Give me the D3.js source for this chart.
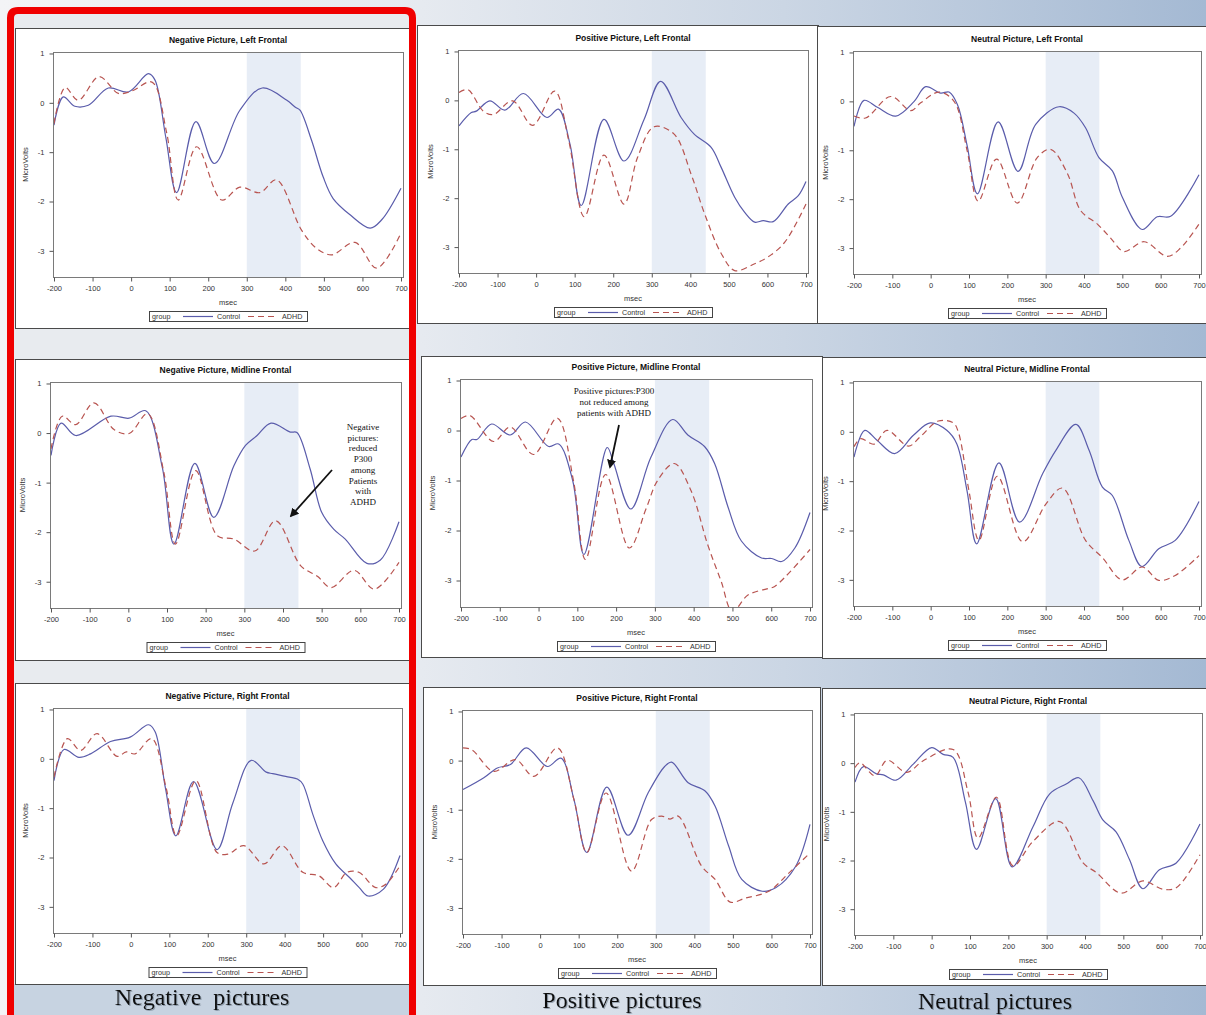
<!DOCTYPE html>
<html>
<head>
<meta charset="utf-8">
<script src="https://cdn.jsdelivr.net/npm/d3@7"></script>
<style>
  html, body { margin: 0; padding: 0; background: #fff; }
  svg { display: block; }
</style>
</head>
<body>
<svg id="chart" width="1206" height="1015"></svg>
<script>
// Grand-average ERP waveforms (µV) at frontal sites, Control vs ADHD,
// for negative, positive and neutral pictures.

const xTicks = [-200, -100, 0, 100, 200, 300, 400, 500, 600, 700];
const yTicks = [1, 0, -1, -2, -3];
const groups = ["Control", "ADHD"];
const p300Window = [300, 440];
const columnLabels = ["Negative  pictures", "Positive pictures", "Neutral pictures"];
const panelTitles = [
  "Negative Picture, Left Frontal", "Negative Picture, Midline Frontal", "Negative Picture, Right Frontal",
  "Positive Picture, Left Frontal", "Positive Picture, Midline Frontal", "Positive Picture, Right Frontal",
  "Neutral Picture, Left Frontal", "Neutral Picture, Midline Frontal", "Neutral Picture, Right Frontal"
];

// [msec, microvolts]
const negLeftControl = [[-200,-0.45],[-176,0.12],[-146,-0.07],[-111,-0.05],[-59,0.30],[-7,0.22],[45,0.59],[62,0.46],[90,-0.7],[118,-1.82],[168,-0.38],[216,-1.23],[282,-0.15],[340,0.30],[404,0.05],[426,-0.09],[438,-0.15],[468,-0.76],[498,-1.5],[524,-1.94],[568,-2.27],[620,-2.54],[650,-2.37],[700,-1.73]];
const negLeftADHD = [[-200,-0.42],[-171,0.31],[-137,0.05],[-83,0.53],[-33,0.19],[2,0.24],[54,0.42],[92,-0.6],[122,-1.97],[170,-0.89],[235,-1.97],[282,-1.71],[334,-1.82],[377,-1.56],[442,-2.58],[481,-2.95],[520,-3.08],[581,-2.83],[637,-3.35],[700,-2.64]];

const negMidControl = [[-200,-0.45],[-174,0.2],[-136,-0.05],[-45,0.34],[2,0.30],[45,0.45],[88,-0.7],[118,-2.24],[172,-0.61],[221,-1.70],[273,-0.66],[303,-0.25],[333,-0.05],[369,0.2],[419,0.02],[436,0.01],[470,-0.72],[500,-1.6],[531,-1.94],[561,-2.14],[617,-2.63],[652,-2.56],[700,-1.79]];
const negMidADHD = [[-200,-0.32],[-171,0.34],[-136,0.17],[-89,0.61],[-37,0.07],[2,-0.01],[50,0.39],[92,-0.8],[122,-2.24],[174,-0.76],[230,-2.07],[273,-2.14],[327,-2.38],[381,-1.77],[446,-2.68],[489,-2.89],[524,-3.12],[584,-2.77],[636,-3.15],[700,-2.61]];

const negRightControl = [[-200,-0.44],[-174,0.19],[-135,0.03],[-105,0.10],[-53,0.35],[-2,0.44],[46,0.69],[63,0.55],[90,-0.6],[117,-1.56],[163,-0.46],[224,-1.84],[265,-0.9],[313,-0.03],[352,-0.27],[369,-0.3],[412,-0.37],[433,-0.41],[447,-0.51],[473,-1.12],[499,-1.66],[533,-2.13],[568,-2.40],[594,-2.61],[617,-2.78],[657,-2.64],[700,-1.96]];
const negRightADHD = [[-200,-0.37],[-165,0.41],[-131,0.17],[-88,0.51],[-36,0.05],[-12,0.14],[11,0.10],[54,0.41],[92,-0.6],[119,-1.56],[169,-0.44],[224,-1.9],[253,-1.93],[294,-1.76],[346,-2.13],[393,-1.76],[447,-2.30],[489,-2.37],[527,-2.61],[562,-2.30],[593,-2.30],[637,-2.61],[663,-2.54],[700,-2.17]];

const posLeftControl = [[-200,-0.52],[-168,-0.25],[-155,-0.22],[-120,-0.01],[-81,-0.2],[-33,0.14],[28,-0.35],[58,-0.18],[88,-0.9],[117,-2.15],[176,-0.39],[228,-1.24],[280,-0.39],[323,0.39],[376,-0.35],[410,-0.69],[454,-0.96],[480,-1.37],[515,-1.98],[541,-2.29],[567,-2.49],[589,-2.46],[615,-2.48],[654,-2.12],[680,-1.95],[700,-1.66]];
const posLeftADHD = [[-200,0.16],[-177,0.22],[-137,-0.22],[-111,-0.29],[-61,-0.01],[-9,-0.51],[48,0.19],[84,-0.8],[125,-2.38],[176,-1.12],[228,-2.12],[263,-1.17],[306,-0.54],[358,-0.69],[402,-1.51],[437,-2.32],[480,-3.13],[515,-3.48],[567,-3.34],[602,-3.2],[645,-2.90],[700,-2.12]];

const posMidControl = [[-200,-0.53],[-172,-0.18],[-159,-0.18],[-121,0.13],[-73,-0.09],[-34,0.17],[26,-0.32],[52,-0.27],[88,-1.0],[117,-2.48],[177,-0.34],[194,-0.66],[238,-1.57],[290,-0.53],[346,0.22],[385,-0.09],[428,-0.32],[454,-0.66],[489,-1.54],[523,-2.21],[575,-2.55],[601,-2.56],[627,-2.62],[661,-2.35],[700,-1.64]];
const posMidADHD = [[-200,0.24],[-177,0.30],[-116,-0.22],[-73,0.07],[-13,-0.48],[48,0.25],[90,-1.0],[121,-2.58],[173,-0.88],[234,-2.35],[277,-1.57],[307,-1.0],[350,-0.66],[393,-1.2],[436,-2.28],[471,-3.02],[500,-3.62],[540,-3.29],[592,-3.16],[609,-3.12],[700,-2.38]];

const posRightControl = [[-200,-0.59],[-146,-0.35],[-111,-0.15],[-77,-0.08],[-36,0.26],[19,-0.12],[54,0.05],[88,-0.8],[121,-1.87],[173,-0.54],[228,-1.52],[280,-0.66],[323,-0.12],[341,-0.03],[384,-0.45],[428,-0.62],[454,-0.93],[489,-1.74],[523,-2.42],[576,-2.66],[611,-2.59],[663,-2.15],[700,-1.30]];
const posRightADHD = [[-200,0.26],[-177,0.22],[-120,-0.22],[-64,0.02],[-16,-0.32],[45,0.26],[88,-0.8],[121,-1.87],[171,-0.66],[237,-2.25],[289,-1.2],[315,-1.13],[337,-1.19],[358,-1.13],[419,-2.15],[454,-2.42],[493,-2.88],[532,-2.80],[593,-2.66],[645,-2.29],[700,-1.88]];

const neuLeftControl = [[-200,-0.51],[-174,0.02],[-139,-0.12],[-91,-0.30],[-43,0.0],[-13,0.30],[26,0.17],[48,0.19],[70,-0.07],[95,-0.9],[122,-1.89],[176,-0.42],[228,-1.43],[274,-0.47],[335,-0.11],[374,-0.24],[404,-0.54],[439,-1.15],[474,-1.42],[500,-1.96],[552,-2.62],[591,-2.36],[626,-2.35],[700,-1.50]];
const neuLeftADHD = [[-200,-0.30],[-170,-0.34],[-104,0.10],[-52,-0.19],[-26,-0.03],[22,0.19],[61,0.0],[95,-1.0],[124,-2.04],[172,-1.18],[226,-2.08],[278,-1.15],[313,-0.98],[357,-1.48],[391,-2.23],[435,-2.51],[470,-2.80],[504,-3.07],[557,-2.87],[617,-3.17],[652,-3.0],[700,-2.51]];

const neuMidControl = [[-200,-0.51],[-172,0.03],[-140,-0.17],[-94,-0.44],[-45,-0.07],[-1,0.18],[42,0.03],[68,-0.24],[95,-1.2],[120,-2.27],[178,-0.63],[232,-1.83],[292,-0.85],[327,-0.37],[379,0.15],[413,-0.37],[448,-1.12],[474,-1.29],[517,-2.2],[551,-2.73],[595,-2.37],[638,-2.2],[700,-1.41]];
const neuMidADHD = [[-200,-0.30],[-183,-0.14],[-148,-0.25],[-114,0.03],[-58,-0.29],[-27,-0.1],[20,0.22],[59,0.18],[72,0.0],[100,-1.2],[126,-2.2],[174,-0.9],[240,-2.23],[301,-1.46],[344,-1.14],[404,-2.2],[448,-2.55],[500,-3.0],[552,-2.74],[595,-3.01],[638,-2.91],[700,-2.51]];

const neuRightControl = [[-200,-0.39],[-178,-0.07],[-144,-0.22],[-126,-0.24],[-93,-0.35],[-48,-0.02],[0,0.32],[30,0.18],[56,0.12],[88,-0.8],[117,-1.77],[167,-0.73],[210,-2.13],[264,-1.31],[308,-0.63],[351,-0.43],[384,-0.30],[421,-0.77],[447,-1.17],[481,-1.41],[516,-1.98],[551,-2.58],[594,-2.19],[638,-2.05],[700,-1.25]];
const neuRightADHD = [[-200,-0.09],[-187,0.01],[-148,-0.26],[-116,0.06],[-65,-0.19],[-22,0.05],[56,0.28],[95,-0.6],[121,-1.54],[169,-0.70],[212,-2.11],[264,-1.61],[334,-1.2],[395,-2.05],[430,-2.25],[494,-2.67],[551,-2.42],[603,-2.59],[638,-2.56],[700,-1.88]];

const negMidNote = ["Negative", "pictures:", "reduced", "P300", "among", "Patients", "with", "ADHD"];
const posMidNote = ["Positive pictures:P300", "not reduced among", "patients with ADHD"];

// Series per panel (Control, ADHD), in title order
const panelSeries = [
  [negLeftControl, negLeftADHD], [negMidControl, negMidADHD], [negRightControl, negRightADHD],
  [posLeftControl, posLeftADHD], [posMidControl, posMidADHD], [posRightControl, posRightADHD],
  [neuLeftControl, neuLeftADHD], [neuMidControl, neuMidADHD], [neuRightControl, neuRightADHD]
];

// ---- layout ----
// box: [x0, y0, x1, y1] white panel; frame: [x0, y0, x1, y1] plot area
const panelLayout = [
  { box: [15, 28, 410, 328],   frame: [53, 52, 403, 277] },
  { box: [15, 359, 410, 660],  frame: [50, 382, 401, 608] },
  { box: [15, 683, 410, 984],  frame: [53, 708, 402, 933] },
  { box: [417, 25, 818, 323],  frame: [458, 50, 808, 273] },
  { box: [421, 356, 822, 657], frame: [460, 379, 812, 607] },
  { box: [423, 687, 820, 985], frame: [462, 710, 812, 934] },
  { box: [817, 26, 1212, 323], frame: [853, 51, 1201, 274] },
  { box: [822, 357, 1212, 658], frame: [853, 381, 1201, 606] },
  { box: [822, 688, 1212, 985], frame: [854, 713, 1202, 935] }
];
const labelPos = [[202, 1005], [622, 1008], [995, 1009]];

const colors = { Control: "#5a5cab", ADHD: "#b85450" };
const FONT = "'Liberation Sans', Arial, sans-serif";
const SERIF = "'Liberation Serif', 'Times New Roman', serif";

const svg = d3.select("#chart");
const defs = svg.append("defs");

const bg = defs.append("linearGradient").attr("id", "bgGrad")
  .attr("x1", "0%").attr("x2", "100%").attr("y1", "0%").attr("y2", "0%");
bg.append("stop").attr("offset", "0%").attr("stop-color", "#f3f4f6");
bg.append("stop").attr("offset", "35%").attr("stop-color", "#e6eaf0");
bg.append("stop").attr("offset", "65%").attr("stop-color", "#cbd6e4");
bg.append("stop").attr("offset", "100%").attr("stop-color", "#a4b9d3");

const arrowMarker = defs.append("marker").attr("id", "arrowHead")
  .attr("viewBox", "0 0 10 10").attr("refX", 8).attr("refY", 5)
  .attr("markerWidth", 5).attr("markerHeight", 5).attr("orient", "auto-start-reverse");
arrowMarker.append("path").attr("d", "M0,0 L10,5 L0,10 Z").attr("fill", "#111");

const shadow = defs.append("filter").attr("id", "textShadow")
  .attr("x", "-5%").attr("y", "-20%").attr("width", "110%").attr("height", "140%");
shadow.append("feDropShadow").attr("dx", 1).attr("dy", 1).attr("stdDeviation", 0.6)
  .attr("flood-color", "#6d7a8a").attr("flood-opacity", 0.6);

// background
svg.append("rect").attr("width", 1206).attr("height", 1015).attr("fill", "url(#bgGrad)");

// highlighted column (negative pictures)
svg.append("rect").attr("x", 10).attr("y", 10).attr("width", 403).attr("height", 1020)
  .attr("fill", "#e8ebef");
svg.append("rect").attr("x", 10).attr("y", 984).attr("width", 403).attr("height", 40)
  .attr("fill", "#c7d3e1");

function drawPanel(i) {
  const L = panelLayout[i];
  const [bx0, by0, bx1, by1] = L.box;
  const [fx0, fy0, fx1, fy1] = L.frame;
  const g = svg.append("g");

  g.append("rect").attr("x", bx0 + 0.5).attr("y", by0 + 0.5)
    .attr("width", bx1 - bx0).attr("height", by1 - by0)
    .attr("fill", "#fff").attr("stroke", "#4a4a4a").attr("stroke-width", 1);

  const x = d3.scaleLinear().domain([-200, 700]).range([fx0 + 1, fx1 - 2]);
  const y = d3.scaleLinear().domain([-3.53, 1.03]).range([fy1, fy0]);

  // P300 window
  g.append("rect").attr("x", x(p300Window[0])).attr("y", fy0)
    .attr("width", x(p300Window[1]) - x(p300Window[0])).attr("height", fy1 - fy0)
    .attr("fill", "#e7edf6");

  const clipId = "clip" + i;
  defs.append("clipPath").attr("id", clipId).append("rect")
    .attr("x", fx0).attr("y", fy0).attr("width", fx1 - fx0).attr("height", fy1 - fy0);

  const line = d3.line().x(d => x(d[0])).y(d => y(d[1])).curve(d3.curveCatmullRom.alpha(0.5));
  const [ctrl, adhd] = panelSeries[i];
  const lines = g.append("g").attr("clip-path", `url(#${clipId})`);
  lines.append("path").datum(ctrl).attr("d", line)
    .attr("fill", "none").attr("stroke", colors.Control).attr("stroke-width", 1.2);
  lines.append("path").datum(adhd).attr("d", line)
    .attr("fill", "none").attr("stroke", colors.ADHD).attr("stroke-width", 1.2)
    .attr("stroke-dasharray", "6,4");

  // frame
  g.append("rect").attr("x", fx0 + 0.5).attr("y", fy0 + 0.5)
    .attr("width", fx1 - fx0).attr("height", fy1 - fy0)
    .attr("fill", "none").attr("stroke", "#7a7a7a").attr("stroke-width", 1);

  const fmt = d => String(d);
  const xa = g.append("g").attr("transform", `translate(0,${fy1 + 0.5})`)
    .call(d3.axisBottom(x).tickValues(xTicks).tickSize(4).tickPadding(4).tickFormat(fmt));
  const ya = g.append("g").attr("transform", `translate(${fx0 + 0.5},0)`)
    .call(d3.axisLeft(y).tickValues(yTicks).tickSize(4).tickPadding(5).tickFormat(fmt));
  [xa, ya].forEach(a => {
    a.select(".domain").remove();
    a.selectAll("line").attr("stroke", "#555");
    a.selectAll("text").attr("fill", "#333").style("font-family", FONT).style("font-size", "7.5px");
  });

  const cx = (fx0 + fx1) / 2;
  g.append("text").attr("x", cx).attr("y", fy0 - 9).attr("text-anchor", "middle")
    .style("font-family", FONT).style("font-size", "8.5px").style("font-weight", "bold")
    .attr("fill", "#111").text(panelTitles[i]);

  g.append("text").attr("transform", `translate(${fx0 - 25},${(fy0 + fy1) / 2}) rotate(-90)`)
    .attr("text-anchor", "middle").style("font-family", FONT).style("font-size", "7.5px")
    .attr("fill", "#333").text("MicroVolts");

  g.append("text").attr("x", cx).attr("y", fy1 + 28).attr("text-anchor", "middle")
    .style("font-family", FONT).style("font-size", "7.5px").attr("fill", "#333").text("msec");

  // legend
  const lx = cx - 79, ly = fy1 + 34;
  const lg = g.append("g").attr("transform", `translate(${lx},${ly})`);
  lg.append("rect").attr("x", 0.5).attr("y", 0.5).attr("width", 158).attr("height", 10)
    .attr("fill", "#fff").attr("stroke", "#444").attr("stroke-width", 1);
  const ltxt = (tx, s) => lg.append("text").attr("x", tx).attr("y", 8.3)
    .style("font-family", FONT).style("font-size", "7.2px").attr("fill", "#333").text(s);
  ltxt(3, "group");
  lg.append("line").attr("x1", 34).attr("x2", 64).attr("y1", 5.5).attr("y2", 5.5)
    .attr("stroke", colors.Control).attr("stroke-width", 1.2);
  ltxt(68, groups[0]);
  lg.append("line").attr("x1", 99).attr("x2", 129).attr("y1", 5.5).attr("y2", 5.5)
    .attr("stroke", colors.ADHD).attr("stroke-width", 1.2).attr("stroke-dasharray", "6,4");
  ltxt(133, groups[1]);
}

panelLayout.forEach((_, i) => drawPanel(i));

// note: negative pictures, midline
{
  const g = svg.append("g");
  negMidNote.forEach((s, k) => {
    g.append("text").attr("x", 363).attr("y", 430 + k * 10.7).attr("text-anchor", "middle")
      .style("font-family", SERIF).style("font-size", "9px").attr("fill", "#111").text(s);
  });
  g.append("line").attr("x1", 332).attr("y1", 470).attr("x2", 291).attr("y2", 516)
    .attr("stroke", "#111").attr("stroke-width", 1.8).attr("marker-end", "url(#arrowHead)");
}
// note: positive pictures, midline
{
  const g = svg.append("g");
  posMidNote.forEach((s, k) => {
    g.append("text").attr("x", 614).attr("y", 394 + k * 11).attr("text-anchor", "middle")
      .style("font-family", SERIF).style("font-size", "9px").attr("fill", "#111").text(s);
  });
  g.append("line").attr("x1", 619).attr("y1", 425).attr("x2", 610).attr("y2", 467)
    .attr("stroke", "#111").attr("stroke-width", 1.8).attr("marker-end", "url(#arrowHead)");
}

// column labels
columnLabels.forEach((s, k) => {
  svg.append("text").attr("x", labelPos[k][0]).attr("y", labelPos[k][1])
    .attr("text-anchor", "middle").attr("xml:space", "preserve")
    .style("font-family", SERIF).style("font-size", "24px").attr("fill", "#111")
    .attr("filter", "url(#textShadow)").text(s);
});

// red highlight frame around negative pictures
svg.append("path")
  .attr("d", "M10.5,1030 L10.5,18 Q10.5,10.5 18,10.5 L405,10.5 Q412.5,10.5 412.5,18 L412.5,1030")
  .attr("fill", "none").attr("stroke", "#f00000").attr("stroke-width", 7);
</script>
</body>
</html>
